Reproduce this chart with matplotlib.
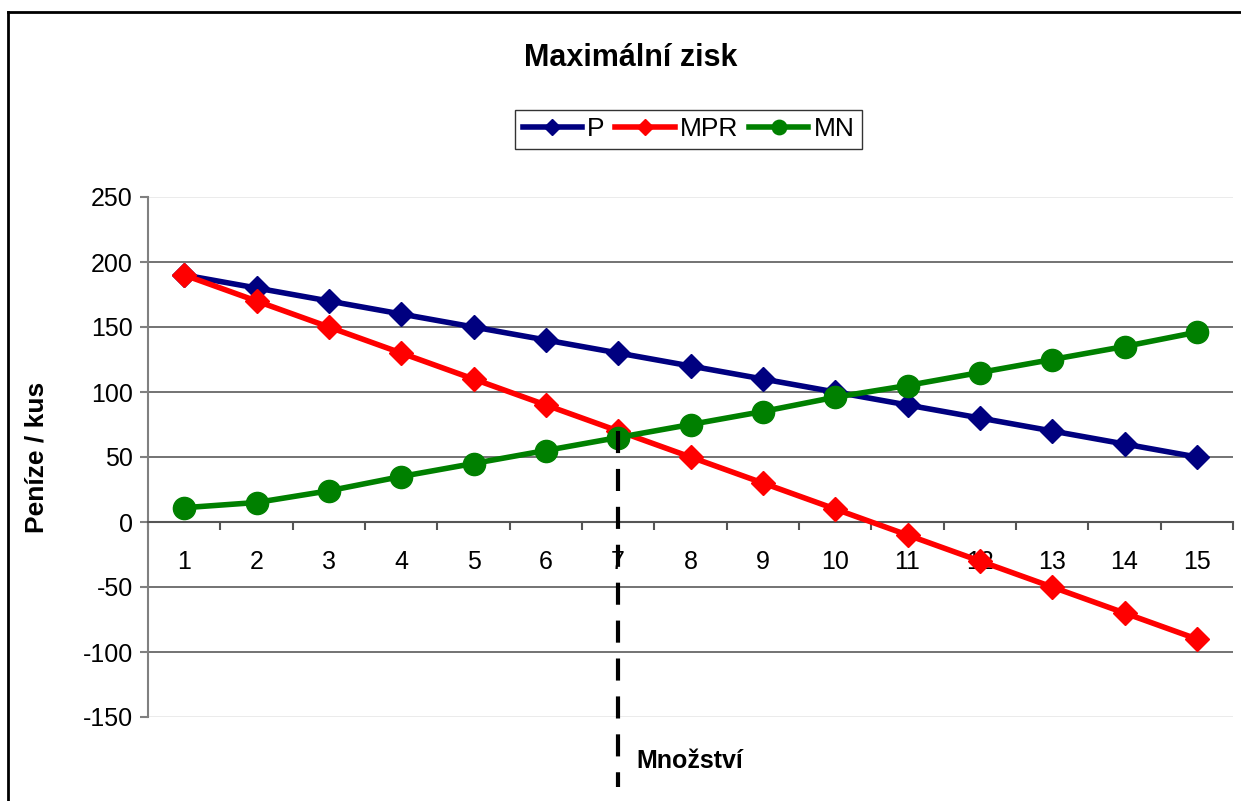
import matplotlib
matplotlib.use("Agg")
import matplotlib.pyplot as plt
from matplotlib.lines import Line2D
import numpy as np

plt.rcParams['font.family'] = ['Liberation Sans', 'DejaVu Sans']

# ---- data ----
quantity = [1, 2, 3, 4, 5, 6, 7, 8, 9, 10, 11, 12, 13, 14, 15]
P = [190, 180, 170, 160, 150, 140, 130, 120, 110, 100, 90, 80, 70, 60, 50]
MPR = [190, 170, 150, 130, 110, 90, 70, 50, 30, 10, -10, -30, -50, -70, -90]
MN = [11, 15, 24, 35, 45, 55, 65, 75, 85, 96, 105, 115, 125, 135, 146]
y_ticks = [-150, -100, -50, 0, 50, 100, 150, 200, 250]
optimum_q = 7

title = "Maximální zisk"
ylabel = "Peníze / kus"
xlabel = "Množství"

W, H = 1241, 801
fig = plt.figure(figsize=(W / 100, H / 100), dpi=100)
ax = fig.add_axes([148 / W, 1 - 717 / H, (1233 - 148) / W, (717 - 197) / H])

ax.set_xlim(quantity[0] - 0.5, quantity[-1] + 0.5)
ax.set_ylim(y_ticks[0], y_ticks[-1])

# grid lines
for yv in y_ticks:
    if yv == 0:
        continue
    col = '#e6e6e6' if yv in (y_ticks[0], y_ticks[-1]) else '#4d4d4d'
    ax.axhline(yv, color=col, lw=1.1, zorder=1)

ax.plot(quantity, P, color='#000080', lw=4, marker='D', ms=12, zorder=3, label='P')
ax.plot(quantity, MPR, color='#ff0000', lw=4, marker='D', ms=12, zorder=3, label='MPR')
ax.plot(quantity, MN, color='#008000', lw=4, marker='o', ms=16, zorder=3, label='MN')

# spines
for s in ['top', 'right']:
    ax.spines[s].set_visible(False)
ax.spines['left'].set_color('#808080')
ax.spines['left'].set_linewidth(1.5)
ax.spines['bottom'].set_position(('data', 0))
ax.spines['bottom'].set_color('#555555')
ax.spines['bottom'].set_linewidth(1.5)

ax.set_yticks(y_ticks)
ax.set_yticklabels([str(v) for v in y_ticks])
ax.tick_params(axis='y', direction='out', length=6, width=1.5, color='#808080',
               labelsize=18, pad=5)

ax.set_xticks(np.arange(quantity[0] - 0.5, quantity[-1] + 1.0, 1.0))
ax.set_xticklabels([])
ax.set_xticks(quantity, minor=True)
ax.set_xticklabels([str(q) for q in quantity], minor=True)
ax.tick_params(axis='x', which='major', direction='out', length=6, width=1.5, color='#555555')
ax.tick_params(axis='x', which='minor', length=0, labelsize=18, pad=20)

ax.set_ylabel(ylabel, fontsize=19, fontweight='bold')
ax.yaxis.set_label_coords(-0.092, 0.5)

# dashed optimum line, from MPR value at optimum down below the plot
ymin, ymax = ax.get_ylim()
y_top = MPR[quantity.index(optimum_q)]
y_bot = ymin - 0.135 * (ymax - ymin)
ax.plot([optimum_q, optimum_q], [y_top, y_bot], color='black', lw=3,
        linestyle=(0, (5.3, 3.8)), clip_on=False, zorder=4)

ax.annotate(xlabel, xy=(optimum_q, 0), xycoords=('data', 'axes fraction'),
            xytext=(13, -32), textcoords='offset points', fontsize=18,
            fontweight='bold', ha='left', va='center', annotation_clip=False)

fig.text(631 / W, 1 - 58 / H, title, fontsize=22, fontweight='bold',
         ha='center', va='center')

leg = fig.legend(loc='center', bbox_to_anchor=(688.5 / W, 1 - 129.5 / H),
                 ncol=3, fontsize=19, frameon=True, fancybox=False,
                 handlelength=2.25, handletextpad=0.2, columnspacing=0.4,
                 markerscale=0.65, borderpad=0.3)
leg.get_frame().set_edgecolor('black')
leg.get_frame().set_linewidth(1.0)

# chart border (top and left)
fig.add_artist(Line2D([8 / W, 1.0], [1 - 12 / H, 1 - 12 / H], color='black', lw=2,
                      transform=fig.transFigure))
fig.add_artist(Line2D([8 / W, 8 / W], [0.0, 1 - 12 / H], color='black', lw=2,
                      transform=fig.transFigure))

fig.savefig('out.png', dpi=100)
